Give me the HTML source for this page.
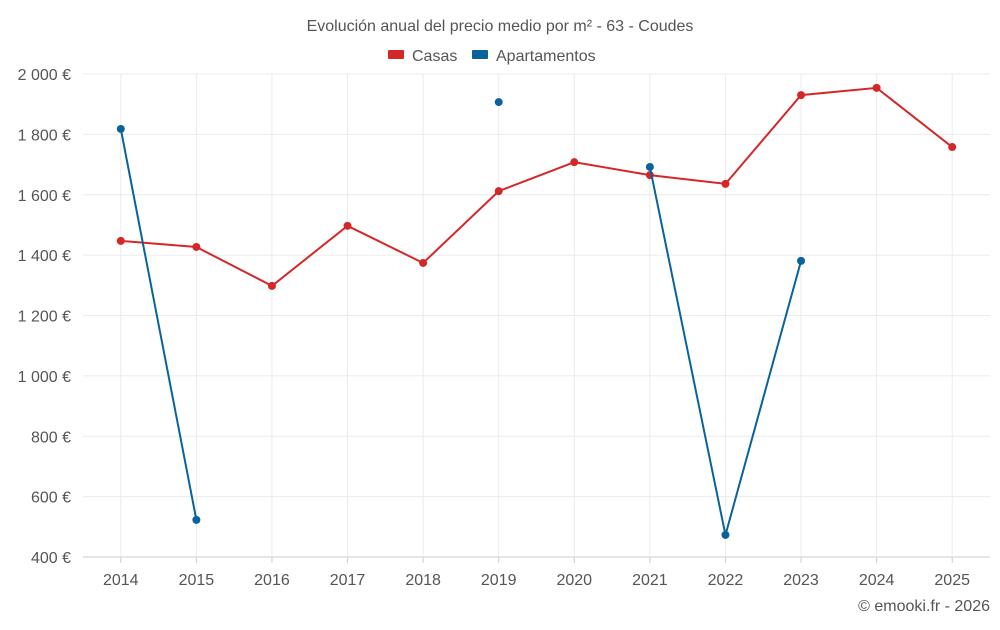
<!DOCTYPE html>
<html><head><meta charset="utf-8"><style>
body{margin:0;background:#fff;font-family:"Liberation Sans",sans-serif;}
svg text{font-family:"Liberation Sans",sans-serif;}
</style></head><body>
<svg id="chart" width="1000" height="625" xmlns="http://www.w3.org/2000/svg">
<text x="500" y="31" text-anchor="middle" font-size="16" fill="#555">Evolución anual del precio medio por m² - 63 - Coudes</text>
<g>
<g><rect x="388" y="50" width="16" height="9" rx="1" fill="#d62728"/><text x="412" y="61" font-size="16" fill="#555">Casas</text></g>
<g><rect x="472" y="50" width="16" height="9" rx="1" fill="#0a629a"/><text x="496" y="61" font-size="16" fill="#555">Apartamentos</text></g>
</g>
<g id="grid"></g><g id="axes"></g><g id="series"></g>
<text x="990" y="611" text-anchor="end" font-size="16" fill="#555">© emooki.fr - 2026</text>
</svg>
<script>
const categories=["2014","2015","2016","2017","2018","2019","2020","2021","2022","2023","2024","2025"];
const casas=[1447,1427,1298,1497,1374,1612,1708,1665,1636,1930,1954,1758];
const apartamentos=[1818,523,null,null,null,1907,null,1692,473,1381,null,null];
const yTicks=[400,600,800,1000,1200,1400,1600,1800,2000];
const yLabels=["400 €","600 €","800 €","1 000 €","1 200 €","1 400 €","1 600 €","1 800 €","2 000 €"];
const L=83,R=990,T=74,B=557,yMin=400,yMax=2000;
const bw=(R-L)/categories.length;
const x=i=>L+bw*(i+0.5);
const y=v=>B-(v-yMin)/(yMax-yMin)*(B-T);
const NS="http://www.w3.org/2000/svg";
function mk(tag,attrs,parent){const e=document.createElementNS(NS,tag);for(const k in attrs)e.setAttribute(k,attrs[k]);parent.appendChild(e);return e;}
const grid=document.getElementById('grid'),axes=document.getElementById('axes'),ser=document.getElementById('series');
yTicks.forEach((t,i)=>{
 const gl=mk('line',{x1:L,x2:R,y1:y(t),y2:y(t),stroke:i===0?'#ccc':'#ebebeb','stroke-width':1},grid);
 
 
 const tx=mk('text',{x:L-12,y:y(t)+6,'text-anchor':'end','font-size':16,fill:'#555'},axes);
 tx.textContent=yLabels[i];
 
 
});
categories.forEach((c,i)=>{
 const gl=mk('line',{x1:x(i),x2:x(i),y1:T,y2:B,stroke:'#ebebeb','stroke-width':1},grid);
 
 
 const tk=mk('line',{x1:x(i),x2:x(i),y1:B,y2:B+6,stroke:'#ccc'},axes);
 
 
 const tx=mk('text',{x:x(i),y:B+28,'text-anchor':'middle','font-size':16,fill:'#555'},axes);
 tx.textContent=c;
 
 
});
function draw(vals,color,name){
 let segs=[],cur=[];
 vals.forEach((v,i)=>{if(v==null){if(cur.length)segs.push(cur);cur=[];}else cur.push([x(i),y(v)]);});
 if(cur.length)segs.push(cur);
 segs.forEach(s=>{if(s.length>1){
  const p=mk('polyline',{points:s.map(q=>q.join(',')).join(' '),fill:'none',stroke:color,'stroke-width':2},ser);
  
  
 }});
 vals.forEach((v,i)=>{if(v==null)return;
  const c=mk('circle',{cx:x(i),cy:y(v),r:4,fill:color},ser);
  
  
 });
}
draw(casas,'#d62728','casas');
draw(apartamentos,'#0a629a','apartamentos');
</script>
</body></html>
